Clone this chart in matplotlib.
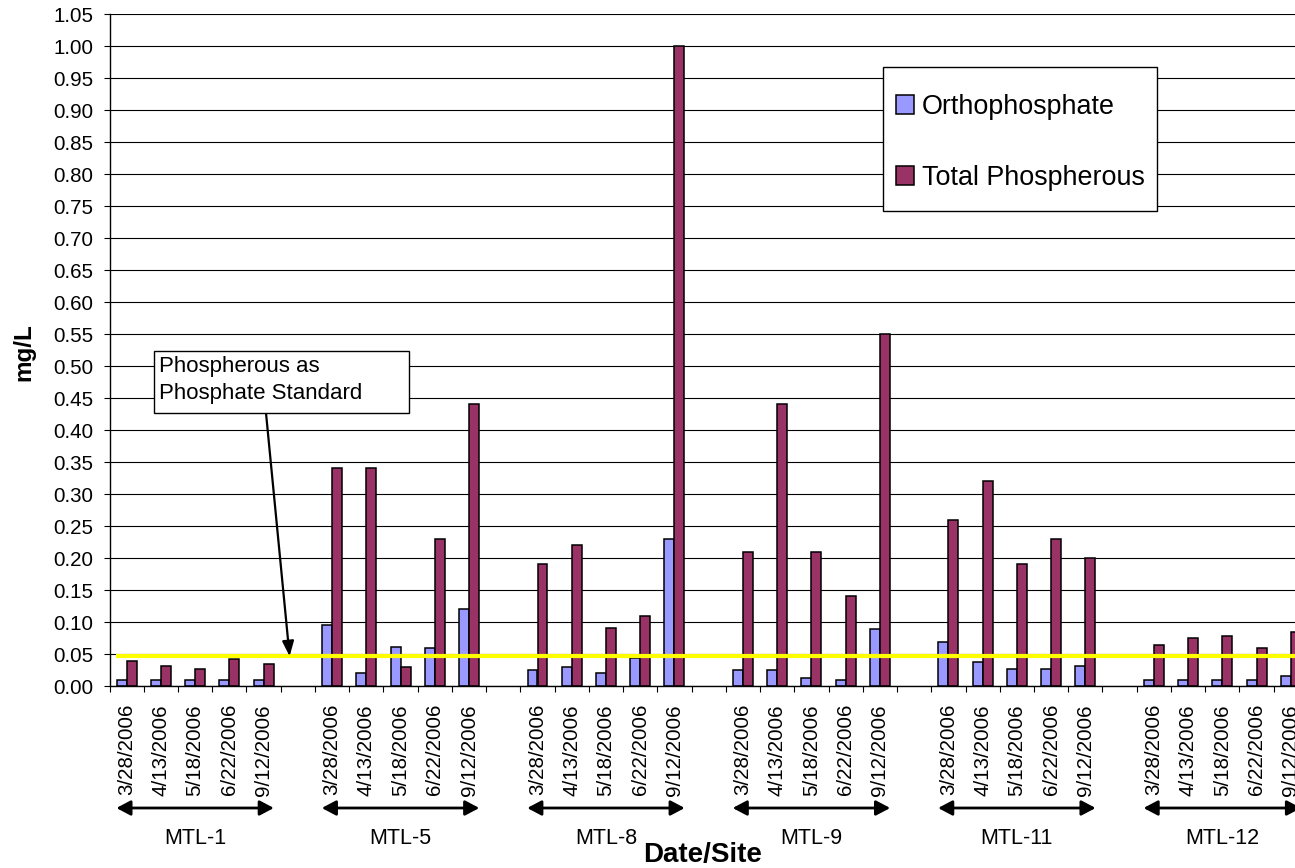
import matplotlib
matplotlib.use("Agg")
import matplotlib.pyplot as plt
from matplotlib.patches import Rectangle
import numpy as np

plt.rcParams['font.family'] = ['Liberation Sans', 'DejaVu Sans']

sites = ["MTL-1", "MTL-5", "MTL-8", "MTL-9", "MTL-11", "MTL-12"]
dates = ["3/28/2006", "4/13/2006", "5/18/2006", "6/22/2006", "9/12/2006"]

ortho = {
    "MTL-1":  [0.010, 0.010, 0.010, 0.010, 0.010],
    "MTL-5":  [0.095, 0.020, 0.061, 0.059, 0.120],
    "MTL-8":  [0.025, 0.030, 0.020, 0.043, 0.230],
    "MTL-9":  [0.025, 0.025, 0.013, 0.010, 0.089],
    "MTL-11": [0.069, 0.038, 0.027, 0.027, 0.032],
    "MTL-12": [0.010, 0.010, 0.010, 0.010, 0.015],
}
total_p = {
    "MTL-1":  [0.039, 0.032, 0.027, 0.042, 0.034],
    "MTL-5":  [0.340, 0.340, 0.029, 0.230, 0.440],
    "MTL-8":  [0.190, 0.220, 0.090, 0.110, 1.000],
    "MTL-9":  [0.210, 0.440, 0.210, 0.140, 0.550],
    "MTL-11": [0.260, 0.320, 0.190, 0.230, 0.200],
    "MTL-12": [0.064, 0.075, 0.078, 0.059, 0.084],
}
standard_value = 0.0465
y_ticks = [round(0.05 * i, 2) for i in range(22)]

W, H = 1295, 868
fig = plt.figure(figsize=(W / 100, H / 100), dpi=100)
cat_px = 34.24
ax = fig.add_axes([109.5 / W, (H - 686) / H, 35 * cat_px / W, 672 / H])

def fp(x, y):
    return (x / W, 1 - y / H)

slot = len(dates) + 1
pos, o_vals, t_vals, labels = [], [], [], []
for g, s in enumerate(sites):
    for d, dt in enumerate(dates):
        pos.append(g * slot + d)
        o_vals.append(ortho[s][d])
        t_vals.append(total_p[s][d])
        labels.append(dt)
pos = np.array(pos)

bw = 0.292
ax.set_axisbelow(True)
b1 = ax.bar(pos - bw / 2, o_vals, bw, color='#9999FF', edgecolor='black', linewidth=1.1,
            label='Orthophosphate', zorder=2)
b2 = ax.bar(pos + bw / 2, t_vals, bw, color='#993366', edgecolor='black', linewidth=1.1,
            label='Total Phospherous', zorder=2)

ax.set_xlim(-0.5, 34.5)
ax.set_ylim(0, 1.05)
ax.set_yticks(y_ticks)
ax.set_yticklabels([f"{v:.2f}" for v in y_ticks], fontsize=14.8)
ax.yaxis.grid(True, color='black', linewidth=0.8)
ax.tick_params(axis='y', direction='out', length=4.5, width=0.8, pad=7)

ax.set_xticks(pos)
ax.set_xticklabels(labels, rotation=90, fontsize=14.8, va='top')
ax.tick_params(axis='x', which='major', length=0, pad=13)
ax.set_xticks(np.arange(-0.5, 35.5, 1), minor=True)
ax.tick_params(axis='x', which='minor', direction='out', length=4.5, width=0.8)

for sp in ['top', 'right']:
    ax.spines[sp].set_visible(False)
ax.spines['left'].set_linewidth(1.0)
ax.spines['bottom'].set_linewidth(1.0)

# standard line
ax.plot([-0.32, 34.5], [standard_value, standard_value], color='#FFFF00', linewidth=3.0,
        zorder=3, solid_capstyle='butt', clip_on=False)

# group arrows and labels
trans = matplotlib.transforms.blended_transform_factory(ax.transData, fig.transFigure)
for g, s in enumerate(sites):
    x0 = g * slot - 0.3
    x1 = g * slot + 4 + 0.3
    ax.annotate('', xy=(x0, 1 - 808 / H), xytext=(x1, 1 - 808 / H),
                xycoords=trans, textcoords=trans,
                arrowprops=dict(arrowstyle='<|-|>,head_length=0.85,head_width=0.45',
                                color='black', lw=2.0, shrinkA=0, shrinkB=0),
                annotation_clip=False)
    ax.text(g * slot + 2, 1 - 838 / H, s, transform=trans, ha='center', va='center',
            fontsize=15.5)

fig.text(703 / W, 1 - 855 / H, 'Date/Site', ha='center', va='center', fontsize=20,
         fontweight='bold')
fig.text(24 / W, 1 - 352 / H, 'mg/L', ha='center', va='center', rotation=90,
         fontsize=17.5, fontweight='bold')

# annotation box
bx0, by0, bx1, by1 = 154, 351, 409, 413
fig.add_artist(Rectangle(fp(bx0, by1), (bx1 - bx0) / W, (by1 - by0) / H,
                         transform=fig.transFigure, facecolor='white', edgecolor='black',
                         linewidth=1.0, zorder=5))
fig.text(159 / W, 1 - 380 / H, 'Phospherous as\nPhosphate Standard', ha='left',
         va='center', fontsize=16, linespacing=1.36, zorder=6)
ax.annotate('', xy=(4.76, standard_value), xycoords='data',
            xytext=fp(266, 413), textcoords='figure fraction',
            arrowprops=dict(arrowstyle='-|>,head_length=0.9,head_width=0.35',
                            color='black', lw=1.6, shrinkA=0, shrinkB=0),
            zorder=7, annotation_clip=False)

# legend
lx0, ly0, lx1, ly1 = 883, 67, 1157, 211
fig.add_artist(Rectangle(fp(lx0, ly1), (lx1 - lx0) / W, (ly1 - ly0) / H,
                         transform=fig.transFigure, facecolor='white', edgecolor='black',
                         linewidth=1.0, zorder=7))
leg = fig.legend(handles=[b1, b2], loc='upper left', bbox_to_anchor=fp(896, 94),
                 bbox_transform=fig.transFigure, fontsize=19.4, frameon=False,
                 borderpad=0, labelspacing=1.67, handlelength=0.67, handleheight=0.67,
                 handletextpad=0.3, borderaxespad=0)
leg.set_zorder(8)

fig.savefig('out.png', dpi=100)
